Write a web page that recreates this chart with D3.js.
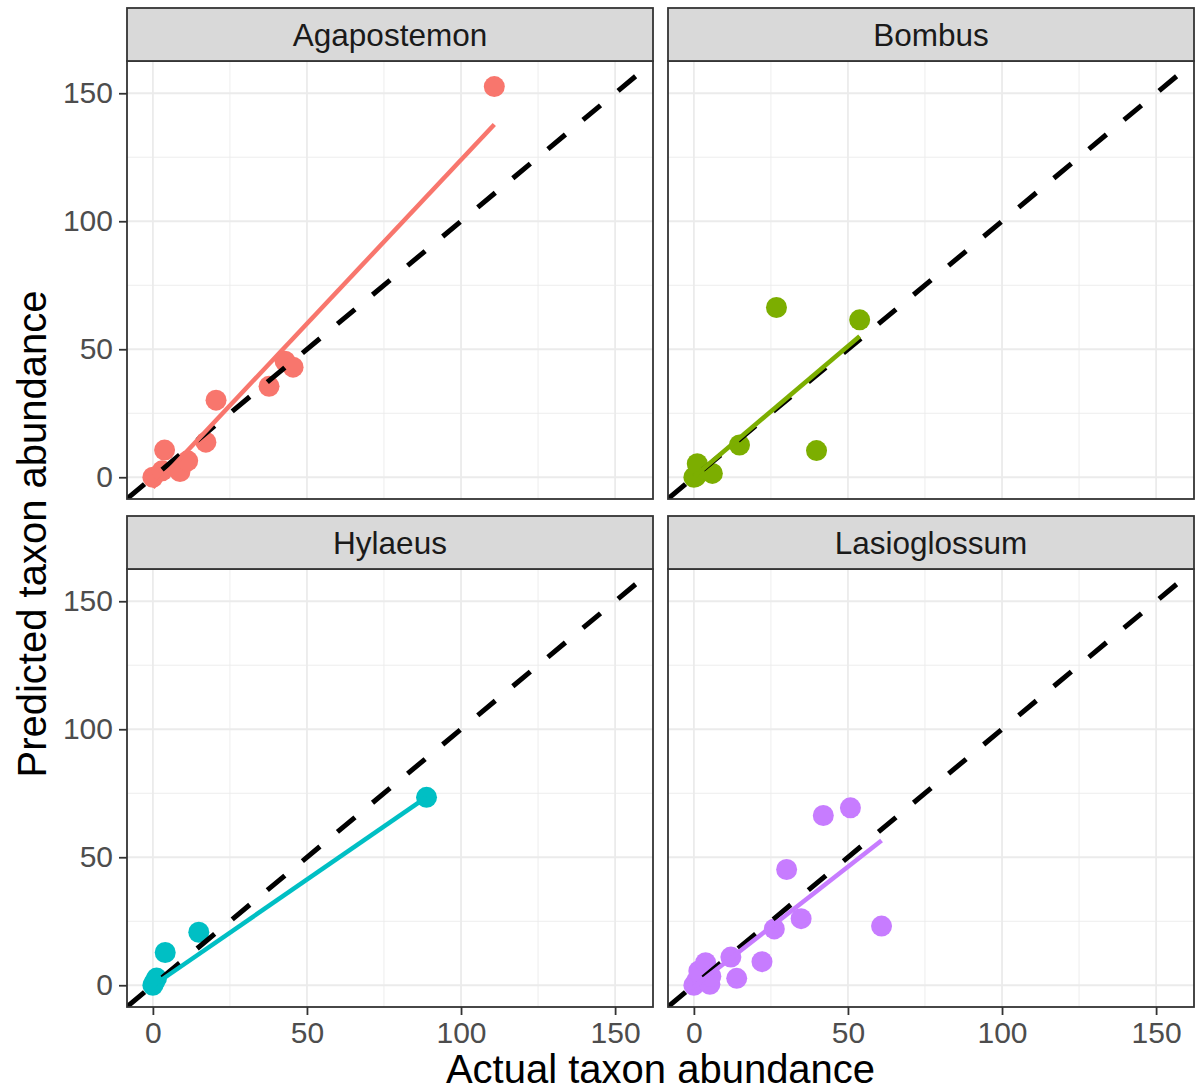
<!DOCTYPE html>
<html>
<head>
<meta charset="utf-8">
<script src="https://cdn.jsdelivr.net/npm/d3@7"></script>
<style>
body { margin: 0; background: #fff; }
text { font-family: "Liberation Sans", Arial, sans-serif; }
</style>
</head>
<body>
<svg id="chart" width="1201" height="1090"></svg>
<script>
// data ------------------
const taxa = ['Agapostemon', 'Bombus', 'Hylaeus', 'Lasioglossum']
const colours = ['#F8766D', '#7CAE00', '#00BFC4', '#C77CFF']

const actualAgapostemon = [0, 3, 3.8, 8.8, 11.3, 17.2, 20.5, 37.7, 42.9, 45.5, 110.8]
const predictedAgapostemon = [0, 2.5, 10.6, 2.2, 6.4, 13.7, 30.1, 35.5, 45.3, 43, 152.6]

const actualBombus = [0, 0.6, 1.1, 6.0, 14.8, 26.8, 39.8, 53.8]
const predictedBombus = [0, 0.3, 5.3, 1.5, 12.6, 66.3, 10.4, 61.5]

const actualHylaeus = [0, 0.5, 1.2, 4.0, 14.9, 88.8]
const predictedHylaeus = [0, 1.2, 2.8, 12.8, 20.7, 73.4]

const actualLasioglossum = [0, 1.0, 2.2, 1.6, 3.8, 5.2, 5.5, 12.0, 13.9, 22.1, 26.1, 30.1, 34.8, 42.0, 50.8, 60.9]
const predictedLasioglossum = [0, 2.0, 4.0, 5.6, 8.8, 0.4, 3.5, 11.0, 2.7, 9.2, 22.0, 45.2, 26.0, 66.3, 69.3, 23.1]

// lm fit per taxon
const fitIntercept = [-4, 0.2, -0.2, -0.7]
const fitSlope = [1.28, 1.02, 0.83, 0.94]

const actual = [actualAgapostemon, actualBombus, actualHylaeus, actualLasioglossum]
const predicted = [predictedAgapostemon, predictedBombus, predictedHylaeus, predictedLasioglossum]

const majorTicks = [0, 50, 100, 150]
const minorTicks = [25, 75, 125]
const xDomain = [-8.4, 162.3]
const yDomain = [-8.5, 162.6]

// layout ------------------
const colX = [127, 668]
const stripTop = [8, 516]
const panelTop = [61, 569]
const pw = 526
const ph = 438
const stripH = 53
const font = '"Liberation Sans", Arial, sans-serif'

const svg = d3.select('#chart')

const xScale = d3.scaleLinear().domain(xDomain).range([0, pw])
const yScale = d3.scaleLinear().domain(yDomain).range([ph, 0])

taxa.forEach((name, i) => {
    const col = i % 2
    const row = Math.floor(i / 2)
    const x0 = colX[col]
    const y0 = panelTop[row]
    const pts = actual[i].map((a, k) => ({ a: a, p: predicted[i][k] }))

    const g = svg.append('g').attr('transform', 'translate(' + x0 + ',' + y0 + ')')

    g.append('rect').attr('width', pw).attr('height', ph).attr('fill', '#fff')

    // grid
    g.selectAll('line.vminor').data(minorTicks).join('line')
        .attr('x1', d => xScale(d)).attr('x2', d => xScale(d))
        .attr('y1', 0).attr('y2', ph)
        .attr('stroke', '#ebebeb').attr('stroke-width', 0.9)
    g.selectAll('line.hminor').data(minorTicks).join('line')
        .attr('y1', d => yScale(d)).attr('y2', d => yScale(d))
        .attr('x1', 0).attr('x2', pw)
        .attr('stroke', '#ebebeb').attr('stroke-width', 0.9)
    g.selectAll('line.vmajor').data(majorTicks).join('line')
        .attr('x1', d => xScale(d)).attr('x2', d => xScale(d))
        .attr('y1', 0).attr('y2', ph)
        .attr('stroke', '#ebebeb').attr('stroke-width', 1.8)
    g.selectAll('line.hmajor').data(majorTicks).join('line')
        .attr('y1', d => yScale(d)).attr('y2', d => yScale(d))
        .attr('x1', 0).attr('x2', pw)
        .attr('stroke', '#ebebeb').attr('stroke-width', 1.8)

    const clipId = 'clip' + i
    g.append('clipPath').attr('id', clipId)
        .append('rect').attr('width', pw).attr('height', ph)
    const inner = g.append('g').attr('clip-path', 'url(#' + clipId + ')')

    // points
    inner.selectAll('circle').data(pts).join('circle')
        .attr('cx', d => xScale(d.a))
        .attr('cy', d => yScale(d.p))
        .attr('r', 10.5)
        .attr('fill', colours[i])

    // 1:1 line
    inner.append('line')
        .attr('x1', xScale(xDomain[0])).attr('y1', yScale(xDomain[0]))
        .attr('x2', xScale(xDomain[1])).attr('y2', yScale(xDomain[1]))
        .attr('stroke', '#000').attr('stroke-width', 5)
        .attr('stroke-dasharray', '22.8,22.8')

    // lm fit over the data range
    const ext = d3.extent(actual[i])
    const fit = x => fitIntercept[i] + fitSlope[i] * x
    inner.append('line')
        .attr('x1', xScale(ext[0])).attr('y1', yScale(fit(ext[0])))
        .attr('x2', xScale(ext[1])).attr('y2', yScale(fit(ext[1])))
        .attr('stroke', colours[i]).attr('stroke-width', 4.5)

    // border
    g.append('rect').attr('width', pw).attr('height', ph)
        .attr('fill', 'none').attr('stroke', '#333').attr('stroke-width', 1.8)

    // strip
    svg.append('rect')
        .attr('x', x0).attr('y', stripTop[row])
        .attr('width', pw).attr('height', stripH)
        .attr('fill', '#d9d9d9').attr('stroke', '#333').attr('stroke-width', 1.8)
    svg.append('text')
        .attr('x', x0 + pw / 2).attr('y', stripTop[row] + stripH / 2)
        .attr('dy', '0.36em')
        .attr('text-anchor', 'middle')
        .attr('font-size', 31.5)
        .attr('fill', '#1a1a1a')
        .text(name)

    // axes
    if (col === 0) {
        const yAxis = d3.axisLeft(yScale).tickValues(majorTicks).tickSize(8).tickPadding(6)
        const ya = g.append('g').call(yAxis)
        ya.select('.domain').remove()
        ya.selectAll('line').attr('stroke', '#333').attr('stroke-width', 1.8)
        ya.selectAll('text').attr('font-size', 30).attr('fill', '#4d4d4d')
            .attr('font-family', font)
    }
    if (row === 1) {
        const xAxis = d3.axisBottom(xScale).tickValues(majorTicks).tickSize(8).tickPadding(7)
        const xa = g.append('g').attr('transform', 'translate(0,' + ph + ')').call(xAxis)
        xa.select('.domain').remove()
        xa.selectAll('line').attr('stroke', '#333').attr('stroke-width', 1.8)
        xa.selectAll('text').attr('font-size', 30).attr('fill', '#4d4d4d')
            .attr('font-family', font)
    }
})

// axis titles
svg.append('text')
    .attr('x', (colX[0] + colX[1] + pw) / 2)
    .attr('y', 1083)
    .attr('text-anchor', 'middle')
    .attr('font-size', 40)
    .text('Actual taxon abundance')

svg.append('text')
    .attr('transform', 'translate(32,' + (panelTop[0] + panelTop[1] + ph) / 2 + ') rotate(-90)')
    .attr('dy', '0.36em')
    .attr('text-anchor', 'middle')
    .attr('font-size', 40)
    .text('Predicted taxon abundance')
</script>
</body>
</html>
